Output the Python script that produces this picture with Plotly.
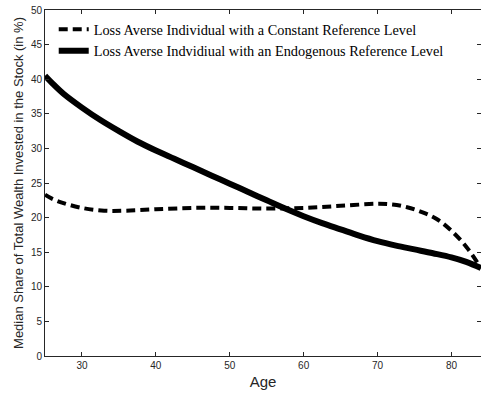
import plotly.graph_objects as go

ages_const = [25, 26, 27.5, 30, 33, 36, 40, 45, 50, 55, 60, 65, 70, 72, 74, 76, 78, 80, 82, 84]
share_const = [23.3, 22.7, 22.1, 21.4, 21.0, 21.0, 21.2, 21.4, 21.4, 21.3, 21.4, 21.7, 22.0, 21.9, 21.5, 20.8, 19.8, 18.1, 15.8, 12.7]

ages_endo = [25, 26, 27.5, 30, 32.5, 35, 37.5, 40, 42.5, 45, 47.5, 50, 52.5, 55, 57.5, 60, 62.5, 65, 67.5, 70, 72.5, 75, 77.5, 80, 82, 84]
share_endo = [40.5, 39.4, 37.9, 35.9, 34.1, 32.5, 31.0, 29.7, 28.5, 27.3, 26.1, 24.9, 23.7, 22.5, 21.3, 20.2, 19.2, 18.3, 17.4, 16.6, 15.95, 15.4, 14.85, 14.25, 13.6, 12.7]

name_const = "Loss Averse Individual with a Constant Reference Level"
name_endo = "Loss Averse Indvidiual with an Endogenous Reference Level"

x_ticks = [30, 40, 50, 60, 70, 80]
y_ticks = [0, 5, 10, 15, 20, 25, 30, 35, 40, 45, 50]

fig = go.Figure()
fig.add_trace(go.Scatter(x=ages_const, y=share_const, mode="lines", name=name_const,
                         line=dict(color="black", width=4, dash="9px,5px", shape="spline", smoothing=1.0)))
fig.add_trace(go.Scatter(x=ages_endo, y=share_endo, mode="lines", name=name_endo,
                         line=dict(color="black", width=6, shape="spline", smoothing=1.0)))

axis_col = "#262626"
common = dict(showgrid=False, zeroline=False, showline=True, linecolor=axis_col, linewidth=1,
              mirror="ticks", ticks="inside", ticklen=4, tickcolor=axis_col,
              tickfont=dict(family="Liberation Sans, Arial", size=10, color=axis_col))

fig.update_layout(
    width=481, height=398,
    margin=dict(l=45, r=0, t=10, b=42),
    paper_bgcolor="white", plot_bgcolor="white",
    showlegend=True,
    legend=dict(x=0.02, y=0.99, xanchor="left", yanchor="top",
                font=dict(family="Liberation Serif, Times New Roman", size=14.3, color="black"),
                bgcolor="rgba(255,255,255,0)", tracegroupgap=0, itemwidth=30),
    xaxis=dict(range=[25, 84], tickvals=x_ticks,
               title=dict(text="Age", font=dict(family="Liberation Sans, Arial", size=15, color=axis_col), standoff=6),
               **common),
    yaxis=dict(range=[0, 50], tickvals=y_ticks,
               title=dict(text="Median Share of Total Wealth Invested in the Stock (in %)",
                          font=dict(family="Liberation Sans, Arial", size=13, color=axis_col), standoff=4),
               **common),
)

fig.write_html("out.html")
